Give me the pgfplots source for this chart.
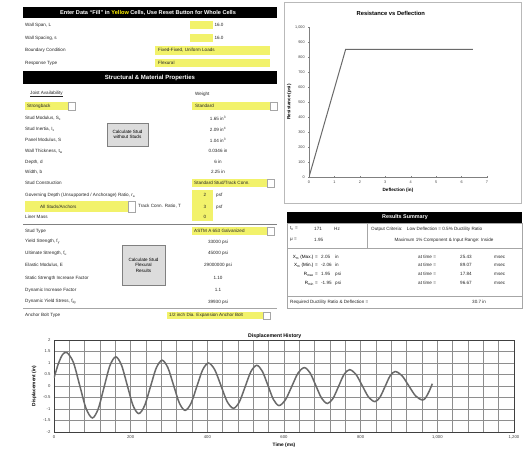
\documentclass[border=0pt]{standalone}
\usepackage{fontspec}
\setmainfont{Liberation Sans}
\usepackage{pgfplots}
\pgfplotsset{compat=1.18}
\definecolor{cellyellow}{HTML}{F2F26B}
\definecolor{gridgray}{HTML}{8E8E8E}
\definecolor{curvegray}{HTML}{6A6A6A}
\definecolor{btngray}{HTML}{DCDCDC}
\newcommand{\sz}{\fontsize{4.6}{5.4}\selectfont}

\begin{document}
\begin{tikzpicture}
\begin{scope}[x=1pt,y=-1pt,
  lab/.style={anchor=west, inner sep=0, font=\sz, text=black!85},
  val/.style={anchor=center, inner sep=0, font=\sz, text=black!85},
  arrow/.style={fill=white, draw=gray!70, line width=0.3pt}]
\path[use as bounding box, fill=white] (0,0) rectangle (523,454);

% top input block
\fill[black] (23,7) rectangle (277,18);
\node[white, font=\fontsize{5.6}{6}\selectfont\bfseries] at (148,12.5)
  {Enter Data ``Fill'' in \textcolor{yellow}{Yellow} Cells, Use Reset Button for Whole Cells};
\fill[cellyellow] (190,21) rectangle (213,29);
\fill[cellyellow] (190,34) rectangle (213,42);
\fill[cellyellow] (155,46) rectangle (270,55);
\fill[cellyellow] (155,59) rectangle (270,67);
\node[lab] at (25,25) {Wall Span, L};
\node[lab] at (25,38) {Wall Spacing, s};
\node[lab] at (25,50.5) {Boundary Condition};
\node[lab] at (25,63) {Response Type};
\node[val] at (219,25) {16.0};
\node[val] at (219,38) {16.0};
\node[lab] at (158,50.5) {Fixed-Fixed, Uniform Loads};
\node[lab] at (158,63) {Flexural};

\fill[black] (23,71) rectangle (277,84);
\node[white, font=\fontsize{6}{6}\selectfont\bfseries] at (150,77.5) {Structural \& Material Properties};

% structural rows
\node[lab] at (30,94) {\underline{Joist Availability}};
\node[lab] at (195,94) {Weight};
\fill[cellyellow] (25,102) rectangle (68,110);
\draw[arrow] (68,102) rectangle (75,110);
\node[lab] at (27,106) {Strongback};
\fill[cellyellow] (192,102) rectangle (270,110);
\draw[arrow] (270,102) rectangle (277,110);
\node[lab] at (195,106) {Standard};

\node[lab] at (25,118) {Stud Modulus, S\textsubscript{x}};   \node[val] at (218,118) {1.65 in\textsuperscript{3}};
\node[lab] at (25,129) {Stud Inertia, I\textsubscript{x}};    \node[val] at (218,129) {2.09 in\textsuperscript{4}};
\node[lab] at (25,140) {Panel Modulus, S};                   \node[val] at (218,140) {1.04 in\textsuperscript{3}};
\node[lab] at (25,151) {Wall Thickness, t\textsubscript{w}}; \node[val] at (218,151) {0.0346 in};
\node[lab] at (25,162) {Depth, d};                           \node[val] at (218,162) {6 in};
\node[lab] at (25,172) {Width, b};                           \node[val] at (218,172) {2.25 in};
\node[lab] at (25,183) {Stud Construction};
\fill[cellyellow] (192,179) rectangle (267,187);
\draw[arrow] (267,179) rectangle (274,187);
\node[lab] at (194,183) {Standard Stud/Track Conn.};
\node[lab] at (25,195) {Governing Depth (Unsupported / Anchorage) Ratio, r\textsubscript{a}};
\fill[cellyellow] (192,190) rectangle (213,221);
\node[val] at (205,195) {2}; \node[lab] at (216,195) {psf};
\fill[cellyellow] (25,201) rectangle (128,212);
\draw[arrow] (128,201) rectangle (135,212);
\node[lab] at (40,206.5) {All Studs/Anchors};
\node[lab] at (138,206.5) {Track Conn. Ratio, T};
\node[val] at (205,207) {3}; \node[lab] at (216,207) {psf};
\node[lab] at (25,217) {Liner Mass};
\node[val] at (205,217) {0};
\draw[gray, line width=0.5pt] (23,224) -- (277,224);
\node[lab] at (25,231) {Stud Type};
\fill[cellyellow] (192,227) rectangle (267,235);
\draw[arrow] (267,227) rectangle (274,235);
\node[lab] at (194,231) {ASTM A 653 Galvanized};
\node[lab] at (25,242) {Yield Strength, f\textsubscript{y}};     \node[val] at (218,242) {33000 psi};
\node[lab] at (25,253) {Ultimate Strength, f\textsubscript{u}};  \node[val] at (218,253) {45000 psi};
\node[lab] at (25,265) {Elastic Modulus, E};                      \node[val] at (218,265) {29000000 psi};
\node[lab] at (25,278) {Static Strength Increase Factor};         \node[val] at (218,278) {1.10};
\node[lab] at (25,290) {Dynamic Increase Factor};                 \node[val] at (218,290) {1.1};
\node[lab] at (25,302) {Dynamic Yield Stress, f\textsubscript{dy}}; \node[val] at (218,302) {39930 psi};
\draw[gray!70, line width=0.4pt] (23,308) -- (277,308);
\node[lab] at (25,315.5) {Anchor Bolt Type};
\fill[cellyellow] (167,312) rectangle (263,319);
\draw[arrow] (263,312) rectangle (270,319);
\node[lab] at (169,315.5) {1/2 inch Dia. Expansion Anchor Bolt};

% buttons
\draw[fill=btngray, draw=gray] (107,123) rectangle (148,146);
\node[align=center, font=\sz, inner sep=0] at (127.5,134.5) {Calculate Stud\\without Studs};
\draw[fill=btngray, draw=gray] (122,245) rectangle (165,285);
\node[align=center, font=\sz, inner sep=0] at (143.5,265) {Calculate Stud\\Flexural\\Results};

% chart border (resistance)
\draw[gray!55, line width=0.5pt] (284,2) rectangle (521,203);

% results summary
\fill[black] (287,212) rectangle (522,223);
\node[white, font=\fontsize{5.4}{6}\selectfont\bfseries] at (405,217.5) {Results Summary};
\draw[gray!70, line width=0.4pt] (287,223) rectangle (522,308);
\draw[gray!70, line width=0.4pt] (367,223) -- (367,248);
\draw[gray!70, line width=0.4pt] (287,248) -- (522,248);
\draw[gray!70, line width=0.4pt] (287,296) -- (522,296);
\node[lab] at (290,229) {t\textsubscript{n} =};  \node[lab] at (314,229) {171}; \node[lab] at (334,229) {Hz};
\node[lab] at (290,240) {μ =};  \node[lab] at (314,240) {1.95};
\node[lab] at (371,229) {Output Criteria:\quad Low Deflection = 0.5\% Ductility Ratio};
\node[val] at (444,240) {Maximum 1\% Component \& Input Range: Inside};
\foreach \y/\l/\v/\u/\t in {257/{X\textsubscript{m} (Max.) =}/2.05/in/25.43,
                             265/{X\textsubscript{m} (Min.) =}/-2.06/in/89.07,
                             274/{R\textsubscript{max} =}/1.95/psi/17.84,
                             283/{R\textsubscript{min} =}/-1.95/psi/96.67}{
  \node[anchor=east, inner sep=0, font=\sz] at (318,\y) {\l};
  \node[lab] at (321,\y) {\v};
  \node[lab] at (335,\y) {\u};
  \node[lab] at (418,\y) {at time =};
  \node[lab] at (460,\y) {\t};
  \node[lab] at (494,\y) {msec};
}
\node[lab] at (290,302) {Required Ductility Ratio \& Deflection =};
\node[lab] at (472,302) {30.7 in};
\end{scope}

% resistance vs deflection
\begin{axis}[
  at={(309pt,-177pt)}, anchor=south west,
  scale only axis, width=178pt, height=150pt,
  xmin=0, xmax=7, ymin=0, ymax=1000,
  xtick={0,1,...,7}, ytick={0,100,...,1000},
  axis lines=left,
  axis line style={-, gray, line width=0.7pt},
  tick style={gray, line width=0.4pt}, major tick length=1.5pt,
  tick label style={font=\fontsize{3.8}{4}\selectfont, text=black!75},
  /pgf/number format/assume math mode=true,
  every axis title shift=0pt,
  title={Resistance vs Deflection},
  title style={font=\fontsize{5.8}{6}\selectfont\bfseries, at={(0.46,1)}, anchor=south, inner sep=0pt, yshift=11pt},
  xlabel={Deflection (in)}, ylabel={Resistance (psi)},
  label style={font=\fontsize{4.6}{5}\selectfont\bfseries},
  xlabel style={yshift=3pt},
  ylabel style={yshift=-3pt},
]
\addplot[curvegray, line width=1pt] coordinates {(0,0) (1.44,850) (6.44,850)};
\end{axis}

% displacement history
\begin{axis}[
  at={(54pt,-432pt)}, anchor=south west,
  scale only axis, width=460pt, height=92pt,
  xmin=0, xmax=1200, ymin=-2, ymax=2,
  xtick={0,200,...,1200}, ytick={-2,-1.5,...,2},
  minor x tick num=4,
  grid=both,
  major grid style={gridgray, line width=0.6pt},
  minor grid style={gridgray, line width=0.6pt},
  axis line style={black!75, line width=0.9pt},
  tick style={draw=none},
  tick label style={font=\fontsize{4.2}{5}\selectfont, text=black!75},
  /pgf/number format/assume math mode=true,
  every axis title shift=0pt,
  title={Displacement History},
  title style={font=\fontsize{5.2}{6}\selectfont\bfseries, at={(0.48,1)}, anchor=south, inner sep=0pt, yshift=1pt},
  xlabel={Time (ms)}, ylabel={Displacement (in)},
  label style={font=\fontsize{4.8}{5}\selectfont\bfseries},
  xlabel style={yshift=3pt},
]
\addplot[curvegray, line width=1.5pt, smooth] table {
t d
0 0.35
12 1.00
23 1.38
34 1.45
50.5 1.03
67 0.03
83.5 -0.97
100 -1.39
115.25 -1.00
130.5 -0.06
145.75 0.88
161 1.27
176 0.91
191 0.04
206 -0.84
221 -1.20
236.25 -0.86
251.5 -0.04
266.75 0.78
282 1.12
297 0.80
312 0.03
327 -0.74
342 -1.06
357.25 -0.76
372.5 -0.03
387.75 0.70
403 1.00
419.25 0.71
435.5 0.02
451.75 -0.68
468 -0.97
483.25 -0.70
498.5 -0.04
513.75 0.63
529 0.90
543.5 0.64
558 0.03
572.5 -0.59
587 -0.85
603.5 -0.61
620 -0.03
636.5 0.56
653 0.80
668 0.57
683 0.02
698 -0.53
713 -0.76
727.5 -0.55
742 -0.03
756.5 0.50
771 0.71
787.5 0.51
804 0.02
820.5 -0.48
837 -0.68
850.25 -0.49
863.5 -0.03
876.75 0.44
890 0.63
907.75 0.45
925.5 0.01
943.25 -0.43
961 -0.61
970 -0.50
979 -0.22
987 0.10
};
\end{axis}
\end{tikzpicture}
\end{document}
